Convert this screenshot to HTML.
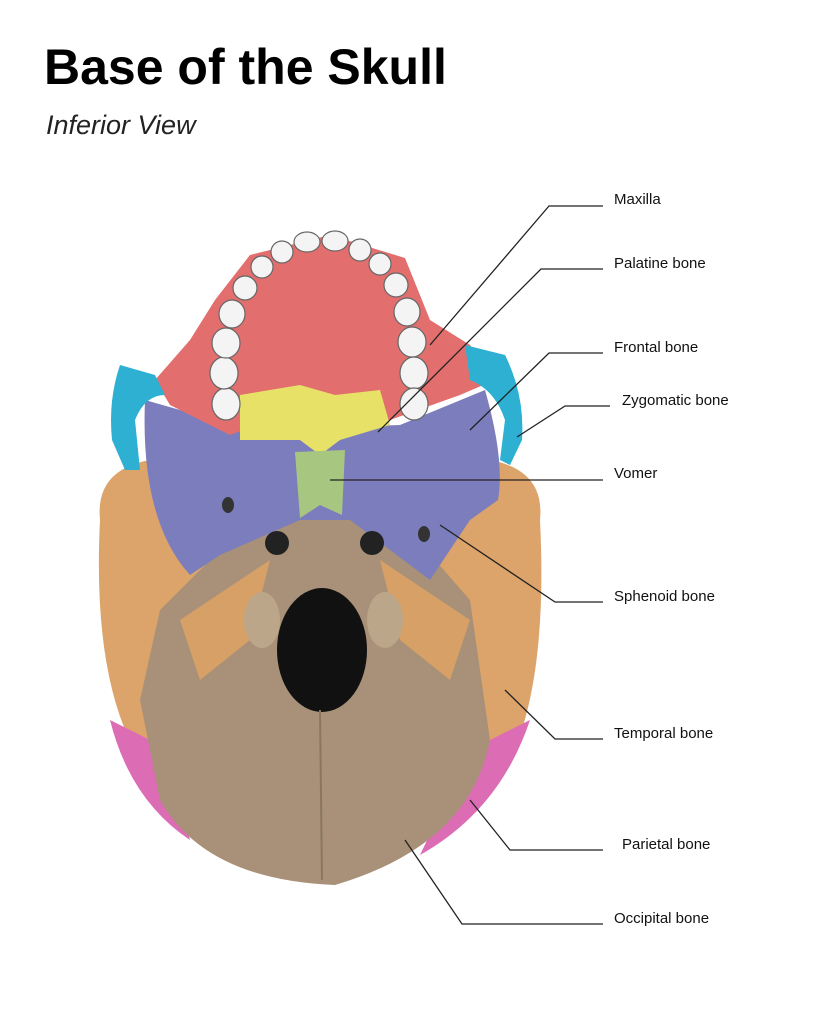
<!DOCTYPE html>
<html><head><meta charset="utf-8"><style>
body{margin:0;background:#fff;width:816px;height:1024px;overflow:hidden;font-family:"Liberation Sans",sans-serif}
</style></head><body>
<svg width="816" height="1024" viewBox="0 0 816 1024" xmlns="http://www.w3.org/2000/svg">
<text x="44" y="84" font-family="Liberation Sans, sans-serif" font-size="50" font-weight="bold" fill="#000">Base of the Skull</text>
<text x="46" y="134" font-family="Liberation Sans, sans-serif" font-size="27" font-style="italic" fill="#222">Inferior View</text>

<path d="M100,520 Q95,470 150,460 L290,510 L270,720 L140,760 Q92,680 100,520 Z" fill="#dca46a"/>
<path d="M540,520 Q545,470 490,460 L360,510 L380,720 L510,760 Q548,680 540,520 Z" fill="#dca46a"/>
<path d="M110,720 L170,750 L190,840 Q130,800 110,720 Z" fill="#dc6cb4"/>
<path d="M530,720 L470,750 L420,855 Q500,810 530,720 Z" fill="#dc6cb4"/>
<path d="M250,520 L400,520 L470,600 L490,740 Q470,845 335,885 Q205,880 160,800 L140,700 L160,610 Z" fill="#a89178"/>
<path d="M180,620 L270,560 L250,640 L200,680 Z M470,620 L380,560 L400,640 L450,680 Z" fill="#d6a066"/>
<path d="M145,400 L250,430 L400,425 L485,390 Q505,460 498,500 L470,520 L430,580 L350,520 L300,520 L220,555 L190,575 Q140,520 145,400 Z" fill="#7c7dbd"/>
<path d="M155,380 L190,340 L215,300 L250,255 L330,235 L405,258 L430,320 L470,345 L495,380 L460,395 L390,420 L330,430 L270,420 L230,435 L170,405 Z" fill="#e26e6e"/>
<path d="M240,395 L300,385 L335,395 L380,390 L390,425 L340,440 L320,455 L300,440 L240,440 Z" fill="#e7e168"/>
<path d="M295,452 L345,450 L342,515 L320,505 L300,518 Z" fill="#a7c781"/>
<path d="M155,375 L120,365 Q108,400 112,440 L125,470 L140,470 L135,420 Q145,395 165,395 Z" fill="#2eb0d3"/>
<path d="M465,345 L505,355 Q525,395 522,440 L510,465 L500,460 L505,420 Q495,390 470,380 Z" fill="#2eb0d3"/>
<g fill="#f4f4f4" stroke="#666" stroke-width="1.2">
<ellipse cx="226" cy="404" rx="14" ry="16"/><ellipse cx="224" cy="373" rx="14" ry="16"/><ellipse cx="226" cy="343" rx="14" ry="15"/><ellipse cx="232" cy="314" rx="13" ry="14"/><ellipse cx="245" cy="288" rx="12" ry="12"/><ellipse cx="262" cy="267" rx="11" ry="11"/><ellipse cx="282" cy="252" rx="11" ry="11"/><ellipse cx="307" cy="242" rx="13" ry="10"/><ellipse cx="335" cy="241" rx="13" ry="10"/><ellipse cx="360" cy="250" rx="11" ry="11"/><ellipse cx="380" cy="264" rx="11" ry="11"/><ellipse cx="396" cy="285" rx="12" ry="12"/><ellipse cx="407" cy="312" rx="13" ry="14"/><ellipse cx="412" cy="342" rx="14" ry="15"/><ellipse cx="414" cy="373" rx="14" ry="16"/><ellipse cx="414" cy="404" rx="14" ry="16"/>
</g>
<ellipse cx="322" cy="650" rx="45" ry="62" fill="#111"/>
<line x1="320" y1="710" x2="322" y2="880" stroke="#8a7660" stroke-width="2"/>
<ellipse cx="262" cy="620" rx="18" ry="28" fill="#bca68a"/><ellipse cx="385" cy="620" rx="18" ry="28" fill="#bca68a"/>
<ellipse cx="277" cy="543" rx="12" ry="12" fill="#222"/><ellipse cx="372" cy="543" rx="12" ry="12" fill="#222"/>
<ellipse cx="228" cy="505" rx="6" ry="8" fill="#333"/><ellipse cx="424" cy="534" rx="6" ry="8" fill="#333"/>

<g stroke="#222" stroke-width="1.3" fill="none">
<polyline points="430,345 549,206 603,206"/>
<polyline points="378,432 541,269 603,269"/>
<polyline points="470,430 549,353 603,353"/>
<polyline points="517,437 565,406 610,406"/>
<polyline points="330,480 603,480"/>
<polyline points="440,525 555,602 603,602"/>
<polyline points="505,690 555,739 603,739"/>
<polyline points="470,800 510,850 603,850"/>
<polyline points="405,840 462,924 603,924"/>
</g>
<g font-family="Liberation Sans, sans-serif" font-size="15" fill="#111">
<text x="614" y="204">Maxilla</text>
<text x="614" y="268">Palatine bone</text>
<text x="614" y="352">Frontal bone</text>
<text x="622" y="405">Zygomatic bone</text>
<text x="614" y="478">Vomer</text>
<text x="614" y="601">Sphenoid bone</text>
<text x="614" y="738">Temporal bone</text>
<text x="622" y="849">Parietal bone</text>
<text x="614" y="923">Occipital bone</text>
</g>
</svg>
</body></html>
